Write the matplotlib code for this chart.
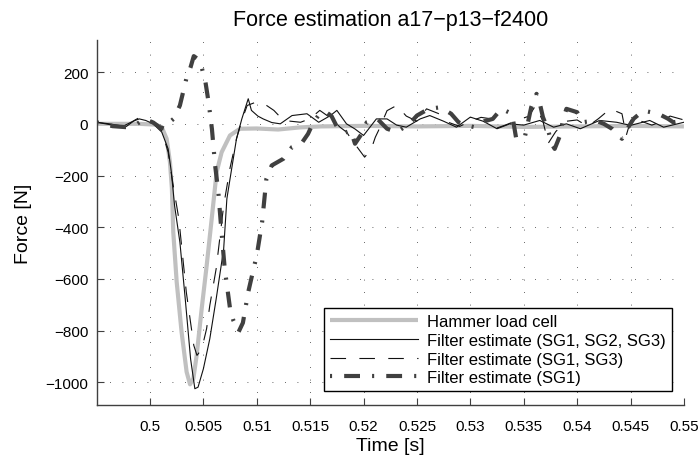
import matplotlib
matplotlib.use("Agg")
import matplotlib.pyplot as plt

plt.rcParams['font.family'] = ['Liberation Sans', 'DejaVu Sans']

# Hammer load cell (reference force)
t_hammer = [0.4950, 0.4990, 0.5005, 0.5011, 0.50156, 0.50187, 0.50205, 0.50218, 0.50250,
            0.50296, 0.50343, 0.50375, 0.50406, 0.50437, 0.50484, 0.50531, 0.50578, 0.50624,
            0.50671, 0.50749, 0.50843, 0.5100, 0.5120, 0.5140, 0.5160, 0.5200, 0.5250,
            0.5300, 0.5350, 0.5400, 0.5450, 0.5500]
f_hammer = [0, 0, -3, -13, -58, -148, -250, -419, -612,
            -806, -960, -1008, -986, -896, -716, -548, -367, -187,
            -110, -45, -19, -18, -22, -14, -10, -8, -10,
            -8, -12, -10, -8, -10]

# Filter estimate using SG1, SG2, SG3
t_sg123 = [0.4950, 0.4962, 0.4975, 0.4984, 0.4990, 0.4996, 0.5003, 0.5011, 0.5017, 0.5020,
           0.5023, 0.5028, 0.5033, 0.5038, 0.5042, 0.5045, 0.5050, 0.5056, 0.5062, 0.5069,
           0.5072, 0.5075, 0.5081, 0.5086, 0.5092, 0.5095, 0.5101, 0.5106, 0.5114, 0.5122,
           0.5133, 0.5147, 0.5158, 0.5169, 0.5175, 0.5184, 0.5192, 0.5200, 0.5212, 0.5222,
           0.5231, 0.5240, 0.5253, 0.5262, 0.5275, 0.5287, 0.5300, 0.5312, 0.5325, 0.5337,
           0.5350, 0.5365, 0.5378, 0.5390, 0.5403, 0.5421, 0.5437, 0.5450, 0.5468, 0.5481,
           0.5500]
f_sg123 = [6, 0, -9, 10, 19, 13, 0, -32, -97, -187,
           -316, -458, -677, -909, -1025, -1019, -948, -832, -677, -484,
           -290, -212, -58, 19, 97, 52, 30, 19, 5, 0,
           32, 39, 6, 32, 52, 0, -20, -45, 19, 19,
           -5, -13, 19, 32, 10, -13, 26, 10, -19, 0,
           -5, 13, -13, 0, -19, 13, 6, -6, 13, -13,
           6]

# Filter estimate using SG1, SG3
t_sg13 = [0.4950, 0.4965, 0.4978, 0.4986, 0.4991, 0.4997, 0.5004, 0.5011, 0.5017, 0.5021,
          0.5027, 0.5034, 0.5041, 0.5044, 0.5047, 0.5050, 0.5053, 0.5056, 0.5062, 0.5069,
          0.5075, 0.5081, 0.5086, 0.5091, 0.5100, 0.5106, 0.5116, 0.5125, 0.5141, 0.5150,
          0.5159, 0.5170, 0.5178, 0.5184, 0.5194, 0.5201, 0.5207, 0.5211, 0.5214, 0.5222,
          0.5231, 0.5240, 0.5250, 0.5259, 0.5270, 0.5280, 0.5290, 0.5300, 0.5310, 0.5320,
          0.5323, 0.5332, 0.5345, 0.5355, 0.5361, 0.5368, 0.5373, 0.5380, 0.5390, 0.5400,
          0.5410, 0.5420, 0.5431, 0.5442, 0.5446, 0.5451, 0.5460, 0.5470, 0.5480, 0.5487,
          0.5500]
f_sg13 = [6, -5, -10, 15, 26, 19, 6, -26, -110, -220,
          -367, -651, -857, -896, -880, -845, -793, -703, -560, -316,
          -170, -58, 13, 71, 85, 80, 52, 13, 6, 20,
          52, 20, -13, -32, -90, -129, -100, -52, -26, 51,
          71, 30, 10, 58, 40, 5, -10, 10, 25, 19,
          -19, -6, 15, 30, 70, 10, -75, -30, 10, 15,
          -10, 20, 58, 39, -45, 25, 10, -5, 10, 30,
          15]

# Filter estimate using SG1 only
t_sg1 = [0.4950, 0.4965, 0.4978, 0.4988, 0.4995, 0.5003, 0.5009, 0.5014, 0.5018, 0.5022,
         0.5028, 0.5034, 0.5038, 0.5041, 0.5045, 0.5048, 0.5052, 0.5055, 0.5058, 0.5061,
         0.5064, 0.5067, 0.5070, 0.5075, 0.5078, 0.5083, 0.5087, 0.5092, 0.5097, 0.5100,
         0.5105, 0.5109, 0.5114, 0.5125, 0.5133, 0.5142, 0.5148, 0.5153, 0.5160, 0.5165,
         0.5170, 0.5176, 0.5182, 0.5188, 0.5192, 0.5198, 0.5203, 0.5213, 0.5222, 0.5231,
         0.5243, 0.5250, 0.5261, 0.5272, 0.5282, 0.5289, 0.5295, 0.5304, 0.5313, 0.5321,
         0.5329, 0.5339, 0.5343, 0.5351, 0.5357, 0.5362, 0.5365, 0.5368, 0.5373, 0.5376,
         0.5379, 0.5384, 0.5387, 0.5390, 0.5400, 0.5405, 0.5417, 0.5425, 0.5433, 0.5442,
         0.5447, 0.5453, 0.5462, 0.5476, 0.5485, 0.5490, 0.5500]
f_sg1 = [6, -9, -13, 0, 19, 5, -13, -19, 5, 19,
         71, 174, 219, 262, 250, 225, 160, 80, -20, -161,
         -264, -419, -561, -716, -760, -805, -770, -651, -561, -509,
         -380, -213, -161, -135, -90, -75, -39, 6, 45, 45,
         30, -19, -35, -26, -77, -40, 6, 19, -19, -32,
         0, 32, 58, 64, 39, 6, -5, -13, 10, 19,
         58, 39, -58, -52, 64, 116, 80, 26, -26, -77,
         -97, -45, 20, 58, 45, 6, 13, 0, -20, -58,
         -19, 20, 51, 39, 20, 6, 13]

labels = ["Hammer load cell", "Filter estimate (SG1, SG2, SG3)",
          "Filter estimate (SG1, SG3)", "Filter estimate (SG1)"]

x_ticks = [0.5, 0.505, 0.51, 0.515, 0.52, 0.525, 0.53, 0.535, 0.54, 0.545, 0.55]
x_ticklabels = ["0.5", "0.505", "0.51", "0.515", "0.52", "0.525", "0.53", "0.535",
                "0.54", "0.545", "0.55"]
y_ticks = [-1000, -800, -600, -400, -200, 0, 200]
y_ticklabels = ["\u22121000", "\u2212800", "\u2212600", "\u2212400", "\u2212200", "0", "200"]

fig = plt.figure(figsize=(7.0, 4.64), dpi=100)
ax = fig.add_axes([0.138, 0.125, 0.839, 0.787])

ax.plot(t_hammer, f_hammer, color="#c0c0c0", lw=3.0, solid_capstyle="butt",
        label=labels[0], zorder=2)
ax.plot(t_sg123, f_sg123, color="#111111", lw=0.8, label=labels[1], zorder=3)
ax.plot(t_sg13, f_sg13, color="#111111", lw=0.8, linestyle=(0, (14, 12)),
        label=labels[2], zorder=3)
ax.plot(t_sg1, f_sg1, color="#404040", lw=3.0, linestyle=(0, (0.5, 2.9, 3.8, 2.9)),
        dash_capstyle="butt", label=labels[3], zorder=4)

ax.set_xlim(0.495, 0.55)
ax.set_ylim(-1088, 325)
ax.set_xticks(x_ticks)
ax.set_xticklabels(x_ticklabels)
ax.set_yticks(y_ticks)
ax.set_yticklabels(y_ticklabels)

ax.grid(True, color="#333333", lw=0.6, linestyle=(0, (1, 14)))
ax.set_axisbelow(True)
for side in ("top", "right"):
    ax.spines[side].set_visible(False)
for side in ("left", "bottom"):
    ax.spines[side].set_color("#404040")
    ax.spines[side].set_linewidth(1.0)
ax.tick_params(direction="in", length=5, width=0.8, color="#404040",
               labelsize=11)
ax.tick_params(axis="x", pad=10)
ax.tick_params(axis="y", pad=6)

ax.set_title("Force estimation a17\u2212p13\u2212f2400", fontsize=15.5, pad=11)
ax.set_xlabel("Time [s]", fontsize=14, labelpad=3)
ax.set_ylabel("Force [N]", fontsize=14, labelpad=10)

leg = ax.legend(loc="lower right", bbox_to_anchor=(0.9796, 0.038), borderaxespad=0,
                fontsize=12, handlelength=5.3, labelspacing=0.22, fancybox=False,
                framealpha=1, edgecolor="black", borderpad=0.35, handletextpad=0.55)
leg.get_frame().set_linewidth(1.0)

fig.savefig("out.png", dpi=100)
